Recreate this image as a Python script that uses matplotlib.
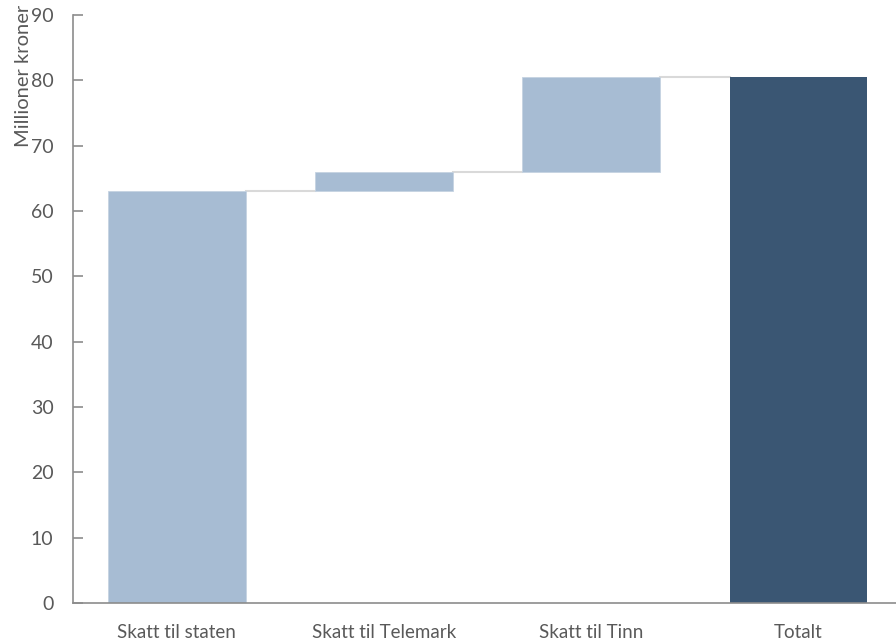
import matplotlib.pyplot as plt
import numpy as np

plt.rcParams['font.family'] = ['Lato', 'DejaVu Sans']

categories = ["Skatt til staten", "Skatt til Telemark", "Skatt til Tinn", "Totalt"]
changes = [63.0, 3.0, 14.5]
total = 80.5

light = "#a7bcd3"
dark = "#3a5673"
grey = "#8c8c8c"
text_col = "#595959"

fig = plt.figure(figsize=(8.96, 6.44), dpi=100)
ax = fig.add_axes([73/896, 1 - 603/644, 1 - 73/896, (603 - 15)/644])

x = np.arange(len(categories))
width = 0.665
bottoms = np.concatenate([[0], np.cumsum(changes)[:-1]])
ax.bar(x[:3], changes, width, bottom=bottoms, color=light, edgecolor="#c5d3e2", linewidth=0.6, zorder=2)
ax.bar(x[3], total, width, color=dark, zorder=2)

# connector lines between bars
levels = list(np.cumsum(changes))
for i, lvl in enumerate(levels):
    ax.plot([x[i] + width/2, x[i+1] - width/2], [lvl, lvl], color="#d9d9d9", lw=1.5, zorder=1)

ax.set_xlim(-0.5, 3.47)
ax.set_ylim(0, 90)
ax.set_yticks(np.arange(0, 91, 10))
ax.set_xticks(x)
ax.set_xticklabels(categories)

for s in ["top", "right"]:
    ax.spines[s].set_visible(False)
for s in ["left", "bottom"]:
    ax.spines[s].set_color(grey)
    ax.spines[s].set_linewidth(1.2)

ax.tick_params(axis="y", direction="in", length=7, color=grey, width=1.2,
               labelsize=14, labelcolor=text_col, pad=14)
ax.tick_params(axis="x", length=0, labelsize=13.5, labelcolor=text_col, pad=15)
ax.set_ylabel("Millioner kroner", loc="top", fontsize=14.5, color=text_col)
ax.yaxis.set_label_coords(-0.05, 1.017)

fig.savefig("out.png", dpi=100)
